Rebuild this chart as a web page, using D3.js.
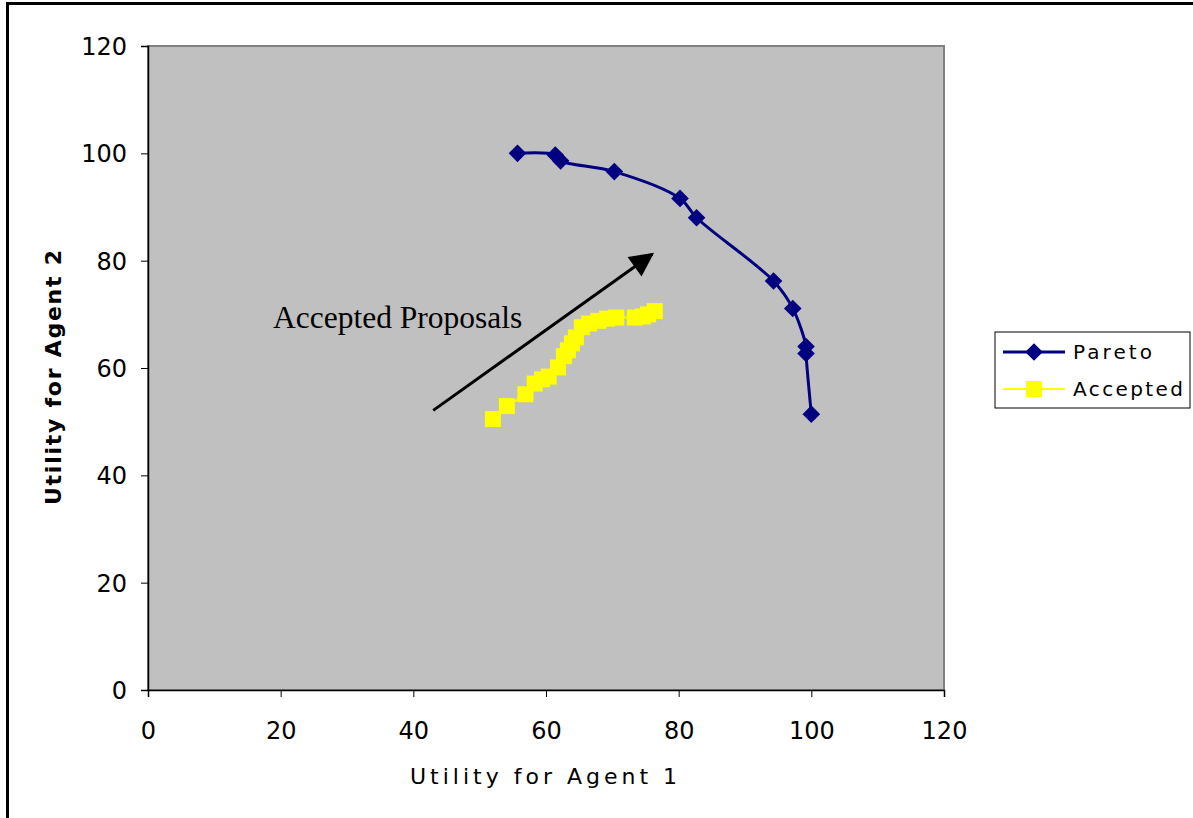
<!DOCTYPE html>
<html>
<head>
<meta charset="utf-8">
<script src="https://cdn.jsdelivr.net/npm/d3@7/dist/d3.min.js"></script>
<style>
  body { margin: 0; background: #fff; }
  svg { display: block; }
</style>
</head>
<body>
<svg id="chart" width="1193" height="818"></svg>
<script>
// Pareto frontier points (agent 1, agent 2)
var paretoX = [55.7, 61.4, 62.2, 70.3, 80.2, 82.7, 94.3, 97.2, 99.2, 99.2, 100.0];
var paretoY = [100.0, 99.7, 98.6, 96.6, 91.6, 88.0, 76.2, 71.1, 64.0, 62.7, 51.4];

// accepted proposals
var acceptedX = [52.0, 54.1, 56.9, 58.3, 59.4, 60.4, 61.8, 62.7, 63.3, 63.9, 64.5, 65.4, 66.5, 67.9, 69.2, 70.6, 73.4, 74.6, 75.4, 76.4];
var acceptedY = [50.5, 52.9, 55.1, 57.1, 57.9, 58.4, 60.1, 62.2, 63.3, 64.6, 65.7, 67.6, 68.3, 68.8, 69.2, 69.4, 69.4, 69.6, 70.0, 70.6];

var xTicks = [0, 20, 40, 60, 80, 100, 120];
var yTicks = [0, 20, 40, 60, 80, 100, 120];

var seriesNames = ['Pareto', 'Accepted'];

var svg = d3.select('#chart');
var margin = { top: 46, left: 148 },
  width = 944 - margin.left,
  height = 690 - margin.top;
var sans = 'DejaVu Sans, Verdana, sans-serif';

// outer chart frame (runs off the right/bottom of the picture)
svg.append('rect')
  .attr('x', 7.5).attr('y', 3.5)
  .attr('width', 1300).attr('height', 900)
  .attr('fill', 'none').attr('stroke', '#000').attr('stroke-width', 3);

var x = d3.scaleLinear().domain([0, 120]).range([0, width]);
var y = d3.scaleLinear().domain([0, 120]).range([height, 0]);

var g = svg.append('g')
  .attr('transform', 'translate(' + margin.left + ',' + margin.top + ')');

// plot area
g.append('rect')
  .attr('width', width).attr('height', height)
  .attr('fill', '#c0c0c0').attr('stroke', '#808080').attr('stroke-width', 2);

// axes
var xAxis = g.append('g')
  .attr('transform', 'translate(0,' + height + ')')
  .call(d3.axisBottom(x).tickValues(xTicks).tickSize(7).tickPadding(25));
var yAxis = g.append('g')
  .call(d3.axisLeft(y).tickValues(yTicks).tickSize(7).tickPadding(14));
[xAxis, yAxis].forEach(function(a) {
  a.select('.domain').attr('stroke', '#000').attr('stroke-width', 1.5);
  a.selectAll('.tick line').attr('stroke', '#000');
  a.selectAll('text')
    .attr('fill', '#000')
    .style('font-family', sans)
    .style('font-size', '24px');
});
yAxis.selectAll('text').attr('dy', '0.36em');

// axis titles
svg.append('text')
  .attr('x', 410).attr('y', 784)
  .attr('textLength', 267).attr('lengthAdjust', 'spacing')
  .style('font-family', sans)
  .style('font-size', '22px')
  .text('Utility for Agent 1');
svg.append('text')
  .attr('transform', 'translate(61,505) rotate(-90)')
  .attr('textLength', 255).attr('lengthAdjust', 'spacing')
  .style('font-family', sans)
  .style('font-size', '22px')
  .style('font-weight', 'bold')
  .text('Utility for Agent 2');

var pareto = paretoX.map(function(d, i) { return { x: d, y: paretoY[i] }; });
var accepted = acceptedX.map(function(d, i) { return { x: d, y: acceptedY[i] }; });

var line = d3.line()
  .x(function(d) { return x(d.x); })
  .y(function(d) { return y(d.y); })
  .curve(d3.curveCatmullRom.alpha(0.5));

// accepted series: thin yellow line + squares
g.append('path')
  .datum(accepted)
  .attr('d', line)
  .attr('fill', 'none').attr('stroke', '#ffff00').attr('stroke-width', 2);
g.selectAll('.acc')
  .data(accepted)
  .enter().append('rect')
  .attr('class', 'acc')
  .attr('x', function(d) { return x(d.x) - 8; })
  .attr('y', function(d) { return y(d.y) - 8; })
  .attr('width', 16).attr('height', 16)
  .attr('fill', '#ffff00');

// pareto series: navy smoothed line + diamonds
g.append('path')
  .datum(pareto)
  .attr('d', line)
  .attr('fill', 'none').attr('stroke', '#000080').attr('stroke-width', 3);
var diamond = d3.symbol().type(d3.symbolSquare).size(155);
g.selectAll('.par')
  .data(pareto)
  .enter().append('path')
  .attr('class', 'par')
  .attr('d', diamond)
  .attr('transform', function(d) { return 'translate(' + x(d.x) + ',' + y(d.y) + ') rotate(45)'; })
  .attr('fill', '#000080');

// annotation arrow
var arrowFrom = [43.0, 52.1], arrowTo = [76.0, 81.2];
svg.append('defs').append('marker')
  .attr('id', 'head')
  .attr('viewBox', '0 0 10 10')
  .attr('refX', 9).attr('refY', 5)
  .attr('markerWidth', 9).attr('markerHeight', 8)
  .attr('markerUnits', 'strokeWidth')
  .attr('orient', 'auto')
  .append('path').attr('d', 'M0,0L10,5L0,10Z').attr('fill', '#000');
g.append('line')
  .attr('x1', x(arrowFrom[0])).attr('y1', y(arrowFrom[1]))
  .attr('x2', x(arrowTo[0])).attr('y2', y(arrowTo[1]))
  .attr('stroke', '#000').attr('stroke-width', 3)
  .attr('marker-end', 'url(#head)');
svg.append('text')
  .attr('x', 273).attr('y', 328)
  .style('font-family', 'Liberation Serif, Times New Roman, serif')
  .style('font-size', '31.5px')
  .text('Accepted Proposals');

// legend
var legend = svg.append('g').attr('transform', 'translate(995,332)');
legend.append('rect')
  .attr('width', 195).attr('height', 76)
  .attr('fill', '#fff').attr('stroke', '#000').attr('stroke-width', 1);
var lg = legend.selectAll('.item')
  .data(seriesNames)
  .enter().append('g')
  .attr('transform', function(d, i) { return 'translate(0,' + (20 + i * 37) + ')'; });
lg.append('line')
  .attr('x1', 8).attr('x2', 70)
  .attr('stroke', function(d, i) { return i ? '#ffff00' : '#000080'; })
  .attr('stroke-width', function(d, i) { return i ? 2 : 3; });
lg.append('path')
  .attr('d', function(d, i) { return i ? d3.symbol().type(d3.symbolSquare).size(256)() : diamond(); })
  .attr('transform', function(d, i) { return 'translate(39,0)' + (i ? '' : ' rotate(45)'); })
  .attr('fill', function(d, i) { return i ? '#ffff00' : '#000080'; });
lg.append('text')
  .attr('x', 78).attr('dy', '0.36em')
  .attr('textLength', function(d, i) { return i ? 110 : 79; })
  .attr('lengthAdjust', 'spacing')
  .style('font-family', sans)
  .style('font-size', '20px')
  .text(function(d) { return d; });
</script>
</body>
</html>
